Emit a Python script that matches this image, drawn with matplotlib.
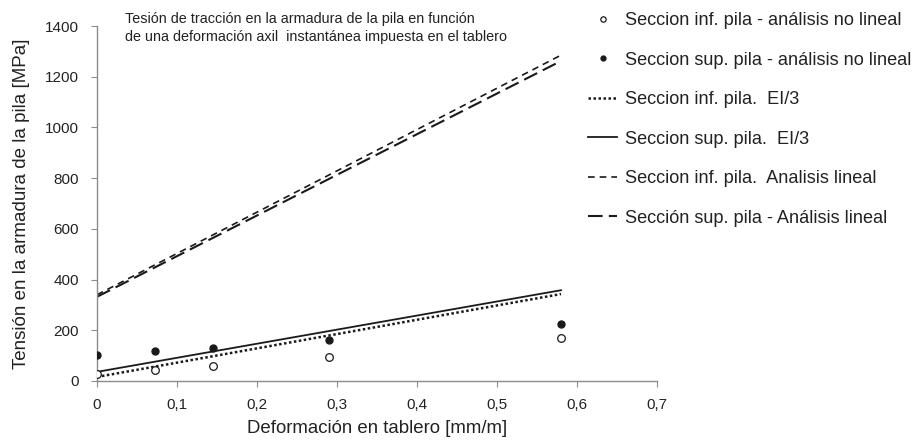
import matplotlib
matplotlib.use("Agg")
import matplotlib.pyplot as plt
from matplotlib.ticker import FuncFormatter
import numpy as np

plt.rcParams['font.family'] = ['Liberation Sans', 'DejaVu Sans']

# Data
x_pts = [0, 0.0725, 0.145, 0.29, 0.58]
inf_nl = [28, 44, 59, 93, 169]
sup_nl = [104, 118, 132, 160, 225]

x_line = [0, 0.58]
inf_ei3 = [16, 343]
sup_ei3 = [36, 358]
inf_lin = [340, 1285]
sup_lin = [332, 1262]

labels = ["Seccion inf. pila - análisis no lineal",
          "Seccion sup. pila - análisis no lineal",
          "Seccion inf. pila.  EI/3",
          "Seccion sup. pila.  EI/3",
          "Seccion inf. pila.  Analisis lineal",
          "Sección sup. pila - Análisis lineal"]

fig = plt.figure(figsize=(9.19, 4.46), dpi=100)
ax = fig.add_axes([97/919, 1-381/446, 560/919, 355/446])

c = '#1a1a1a'
h1, = ax.plot(x_pts, inf_nl, 'o', mfc='white', mec=c, ms=5.5, mew=0.9, ls='none', label=labels[0], zorder=5)
h2, = ax.plot(x_pts, sup_nl, 'o', mfc=c, mec=c, ms=5, ls='none', label=labels[1], zorder=5)
h3, = ax.plot(x_line, inf_ei3, color=c, lw=1.8, ls=(0, (1, 1.0)), label=labels[2])
h4, = ax.plot(x_line, sup_ei3, color=c, lw=1.3, ls='-', label=labels[3])
h5, = ax.plot(x_line, inf_lin, color=c, lw=1.2, ls=(0, (4, 3)), label=labels[4])
h6, = ax.plot(x_line, sup_lin, color=c, lw=1.5, ls=(0, (7, 3)), label=labels[5])

ax.set_xlim(0, 0.7)
ax.set_ylim(0, 1400)
ax.set_xticks(np.arange(0, 0.71, 0.1))
ax.set_yticks(np.arange(0, 1401, 200))
ax.xaxis.set_major_formatter(FuncFormatter(lambda v, p: ('%g' % round(v, 2)).replace('.', ',')))

for s in ['top', 'right']:
    ax.spines[s].set_visible(False)
for s in ['left', 'bottom']:
    ax.spines[s].set_color('#8c8c8c')
    ax.spines[s].set_linewidth(1.0)
ax.tick_params(axis='both', colors='#8c8c8c', labelcolor='#222222', labelsize=11, length=4, width=0.8)
ax.tick_params(axis='x', pad=8)
ax.tick_params(axis='y', pad=9)

ax.set_xlabel("Deformación en tablero [mm/m]", fontsize=13.4, color='#222222', labelpad=6)
ax.set_ylabel("Tensión en la armadura de la pila [MPa]", fontsize=13.5, color='#222222', labelpad=11)

fig.text(125/919, 1-28/446, "Tesión de tracción en la armadura de la pila en función\nde una deformación axil  instantánea impuesta en el tablero",
         fontsize=10.35, color='#222222', va='center', ha='left', linespacing=1.45)

# legend
leg = fig.legend(handles=[h1, h2, h3, h4, h5, h6], loc='upper left', bbox_to_anchor=(588/919, 1-12/446),
                 frameon=False, fontsize=13.1, handlelength=1.6, handletextpad=0.42, labelspacing=1.24,
                 borderaxespad=0, borderpad=0, markerscale=0.7)
for t in leg.get_texts():
    t.set_color('#222222')

fig.savefig("out.png", dpi=100)
